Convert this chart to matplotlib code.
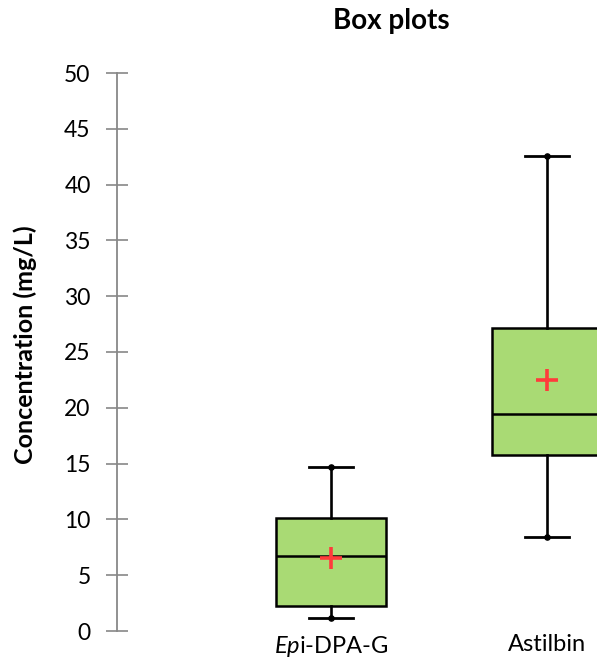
import matplotlib
matplotlib.use("Agg")
import matplotlib.pyplot as plt

# Data
categories = ["$\\mathit{Ep}$i-DPA-G", "Astilbin"]
whisker_low = [1.14, 8.45]
q1 = [2.27, 15.77]
median = [6.69, 19.42]
q3 = [10.15, 27.12]
whisker_high = [14.72, 42.6]
mean = [6.55, 22.49]
yticks = [0, 5, 10, 15, 20, 25, 30, 35, 40, 45, 50]

plt.rcParams['font.family'] = ['Lato', 'DejaVu Sans']
plt.rcParams['mathtext.fontset'] = 'custom'
plt.rcParams['mathtext.it'] = 'Lato:italic'
plt.rcParams['mathtext.rm'] = 'Lato'

W, H = 597, 661
fig = plt.figure(figsize=(W / 100, H / 100), dpi=100)
ax = fig.add_axes([117 / W, 1 - 631 / H, (W - 117) / W, (631 - 73) / H])

stats = []
for i in range(len(categories)):
    stats.append(dict(med=median[i], q1=q1[i], q3=q3[i],
                      whislo=whisker_low[i], whishi=whisker_high[i],
                      mean=mean[i], label=categories[i]))

positions = [1, 2]
ax.bxp(stats, positions=positions, widths=0.505, patch_artist=True,
       showmeans=True, showfliers=False,
       boxprops=dict(facecolor="#A9DA74", edgecolor="black", linewidth=1.8),
       medianprops=dict(color="black", linewidth=1.8),
       whiskerprops=dict(color="black", linewidth=1.9),
       capprops=dict(color="black", linewidth=2.0),
       capwidths=0.204,
       meanprops=dict(marker="+", markeredgecolor="#FF3B3B", markersize=15.5,
                      markeredgewidth=2.6))

# small dots at whisker ends
ax.scatter(positions, whisker_low, s=14, color="black", zorder=5)
ax.scatter(positions, whisker_high, s=14, color="black", zorder=5)

left = 1 - 214 / 216
ax.set_xlim(left, left + (W - 117) / 216)
ax.set_ylim(0, 50)
ax.set_yticks(yticks)
ax.set_xticks(positions)
ax.set_xticklabels(categories, fontsize=17)

for s in ["top", "right", "bottom"]:
    ax.spines[s].set_visible(False)
ax.spines["left"].set_color("#888888")
ax.spines["left"].set_linewidth(1.3)
ax.tick_params(axis="y", direction="inout", length=16, width=1.2,
               color="#888888", labelsize=16.5, pad=11)
ax.tick_params(axis="x", length=0, pad=2)

fig.text(25 / W, 1 - 345 / H, "Concentration (mg/L)", rotation=90,
         ha="center", va="center", fontsize=18, fontweight="bold")
fig.text(391 / W, 1 - 29.5 / H, "Box plots", ha="center", va="baseline",
         fontsize=20, fontweight="bold")

fig.savefig("out.png", dpi=100)
